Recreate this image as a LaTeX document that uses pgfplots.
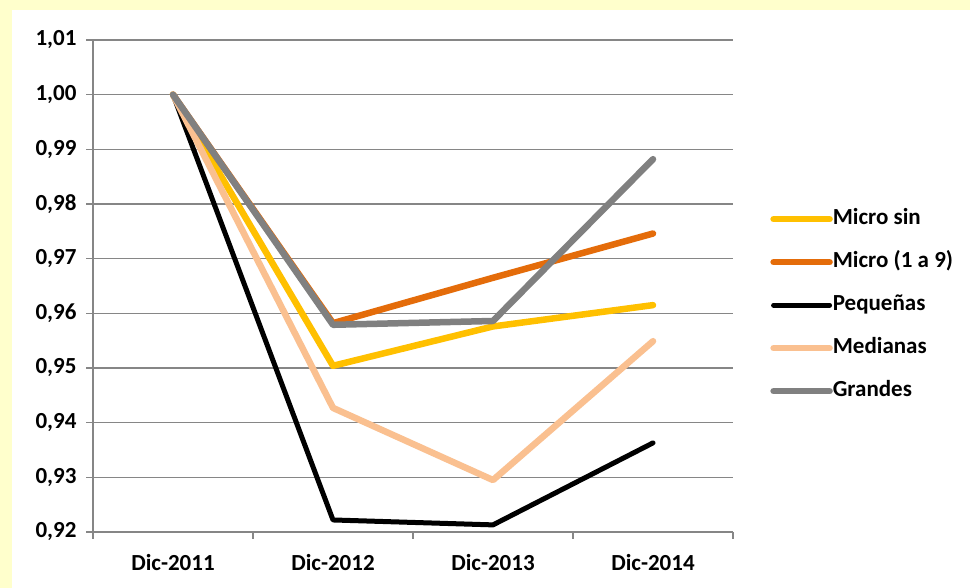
\documentclass[border=0pt]{standalone}
\usepackage{pgfplots}
\pgfplotsset{compat=1.18}
\usepackage{fontspec}
\setmainfont{Carlito}
\definecolor{bgyellow}{RGB}{255,255,204}
\definecolor{gridgray}{RGB}{134,134,134}
\definecolor{microsin}{RGB}{255,192,0}
\definecolor{microuno}{RGB}{228,108,10}
\definecolor{medianas}{RGB}{250,192,144}
\definecolor{grandes}{RGB}{128,128,128}
\begin{document}
\begin{tikzpicture}[x=1bp,y=1bp]
\fill[bgyellow] (0,0) rectangle (970,588);
\fill[white] (12,0) rectangle (970,578);
\begin{axis}[
  at={(93bp,56bp)}, anchor=south west,
  scale only axis, width=640bp, height=492bp,
  xmin=-0.5, xmax=3.5, ymin=0.92, ymax=1.01,
  xtick={0,1,2,3},
  xticklabels={Dic-2011,Dic-2012,Dic-2013,Dic-2014},
  minor xtick={-0.5,0.5,1.5,2.5,3.5},
  ytick={0.92,0.93,...,1.011},
  axis lines=left,
  axis line style={-, draw=gridgray, line width=1.2bp},
  ymajorgrids,
  major grid style={draw=gridgray, line width=1.2bp},
  tick align=outside,
  x tick style={draw=none},
  minor x tick style={draw=gridgray, line width=1.2bp},
  y tick style={draw=gridgray, line width=1.2bp},
  major tick length=7bp,
  minor tick length=7bp,
  /pgf/number format/.cd, use comma, fixed, fixed zerofill, precision=2, assume math mode=true,
  /pgfplots/.cd,
  ticklabel style={font=\fontsize{23bp}{27bp}\selectfont\bfseries},
  xticklabel style={yshift=-12bp},
  yticklabel style={xshift=-6bp},
  legend style={draw=none, fill=none, at={(1.058,0.461)}, anchor=west,
    font=\fontsize{23bp}{27bp}\selectfont\bfseries,
    inner sep=0pt, row sep=23bp,
    nodes={inner sep=0pt, text height=15bp, text depth=5bp, anchor=west, xshift=2bp}},
  legend cell align=left,
  legend image code/.code={\draw[#1, line cap=round] (0bp,0bp) -- (56bp,0bp);},
  every axis plot/.append style={line cap=round, line join=round},
  clip=false,
]
\addplot[microsin, line width=6.5bp] coordinates {(0,1.000) (1,0.9504) (2,0.9576) (3,0.9615)};
\addlegendentry{Micro sin}
\addplot[microuno, line width=6.5bp] coordinates {(0,1.000) (1,0.9582) (2,0.9665) (3,0.9746)};
\addlegendentry{Micro (1 a 9)}
\addplot[black, line width=5bp] coordinates {(0,1.000) (1,0.9222) (2,0.9213) (3,0.9363)};
\addlegendentry{Pequeñas}
\addplot[medianas, line width=6.5bp] coordinates {(0,1.000) (1,0.9427) (2,0.9295) (3,0.9549)};
\addlegendentry{Medianas}
\addplot[grandes, line width=6.5bp] coordinates {(0,1.000) (1,0.9579) (2,0.9586) (3,0.9882)};
\addlegendentry{Grandes}
\end{axis}
\pgfresetboundingbox
\useasboundingbox (0,0) rectangle (970,588);
\end{tikzpicture}
\end{document}
